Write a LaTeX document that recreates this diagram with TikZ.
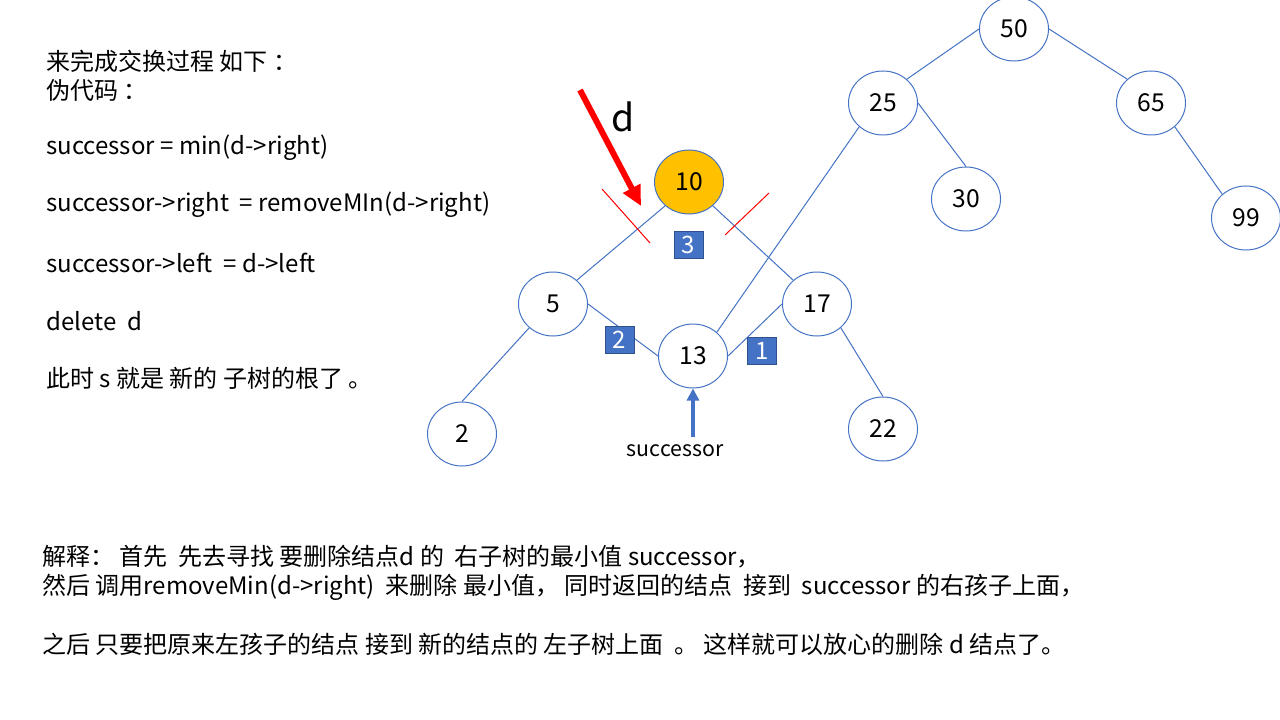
\documentclass[tikz,border=0pt]{standalone}
\usepackage{fontspec}
\setmainfont{Noto Sans CJK SC}
\usetikzlibrary{shapes.geometric,arrows.meta}
\definecolor{nodeblue}{HTML}{4472C4}
\definecolor{boxedge}{HTML}{2F528F}
\definecolor{gold}{HTML}{FFC000}
\begin{document}
\begin{tikzpicture}[x=0.75pt,y=-0.75pt,
  tn/.style={ellipse,draw=nodeblue,line width=0.75pt,minimum width=51.75pt,minimum height=48pt,inner sep=0pt,font=\fontsize{18.5}{21}\selectfont},
  edge/.style={draw=nodeblue,line width=0.75pt},
  cut/.style={draw=red,line width=0.75pt},
  badge/.style={fill=nodeblue,draw=boxedge,line width=0.5pt,minimum width=21.75pt,minimum height=20.25pt,inner sep=0pt,text=white,font=\fontsize{18}{21}\selectfont},
  txt/.style={anchor=west,inner sep=0pt,font=\fontsize{18}{21}\selectfont}]
\useasboundingbox (0,0) rectangle (1280,720);

% left text
\node[txt] (t1) at (46,61) {来完成交换过程 如下 ：};
\node[txt] (t2) at (46,90) {伪代码 ：};
\node[txt] (t3) at (46,148) {successor = min(d->right)};
\node[txt] (t4) at (46,205) {successor->right\ \ = removeMIn(d->right)};
\node[txt] (t5) at (46,263) {successor->left\ \ = d->left};
\node[txt] (t6) at (46,321) {delete\ \ d};
\node[txt] (t7) at (46,378) {此时 s 就是 新的 子树的根了 。};

% bottom text
\node[txt] (b1) at (42,557) {解释： 首先\ \ 先去寻找 要删除结点d 的\ \ 右子树的最小值 successor，};
\node[txt] (b2) at (42,587) {然后 调用removeMin(d->right)\ \ 来删除 最小值， 同时返回的结点\ \ 接到\ \ successor 的右孩子上面，};
\node[txt] (b3) at (42,644) {之后 只要把原来左孩子的结点 接到 新的结点的 左子树上面\ \ 。 这样就可以放心的删除 d 结点了。};

% tree nodes
\node[tn] (n50) at (1014,29) {50};
\node[tn] (n25) at (883,103) {25};
\node[tn] (n65) at (1151,103) {65};
\node[tn] (n30) at (966,199) {30};
\node[tn] (n99) at (1246,218) {99};
\node[tn,fill=gold] (n10) at (689,182) {10};
\node[tn] (n5) at (553,304) {5};
\node[tn] (n17) at (817,304) {17};
\node[tn] (n13) at (693,356) {13};
\node[tn] (n2) at (462,434) {2};
\node[tn] (n22) at (883,429) {22};

% edges
\draw[edge] (n50.west) -- (n25.45);
\draw[edge] (n50.east) -- (n65.135);
\draw[edge] (n25.east) -- (n30.north);
\draw[edge] (n65.-45) -- (n99.135);
\draw[edge] (n13.45) -- (n25.225);
\draw[edge] (n10.225) -- (n5.45);
\draw[edge] (n10.-45) -- (n17.135);
\draw[edge] (n5.225) -- (n2.north);
\draw[edge] (n5.east) -- (n13.west);
\draw[edge] (n13.east) -- (n17.west);
\draw[edge] (n17.-45) -- (n22.north);

% red cuts
\coordinate (c1a) at (602,189);
\coordinate (c1b) at (650,243);
\coordinate (c2a) at (769,193);
\coordinate (c2b) at (725,235);
\draw[cut] (c1a) -- (c1b);
\draw[cut] (c2a) -- (c2b);

% red arrow and d
\coordinate (dtail) at (580,90);
\coordinate (dtip) at (641,206);
\draw[red,line width=4.5pt,-{Triangle[length=15pt,width=14pt]}] (dtail) -- (dtip);
\node[inner sep=0pt,font=\fontsize{28}{32}\selectfont] (dlab) at (623,117) {d};

% badges
\node[badge] (k3) at (688.5,244.5) {3};
\node[badge] (k2) at (619.5,340) {2};
\node[badge] (k1) at (762,351) {1};

% successor arrow
\coordinate (stail) at (693,437);
\draw[nodeblue,line width=3pt,-{Triangle[length=9pt,width=9pt]}] (stail) -- (n13.south);
\node[inner sep=0pt,font=\fontsize{16}{19}\selectfont] (succ) at (675,451) {successor};
\end{tikzpicture}
\end{document}
